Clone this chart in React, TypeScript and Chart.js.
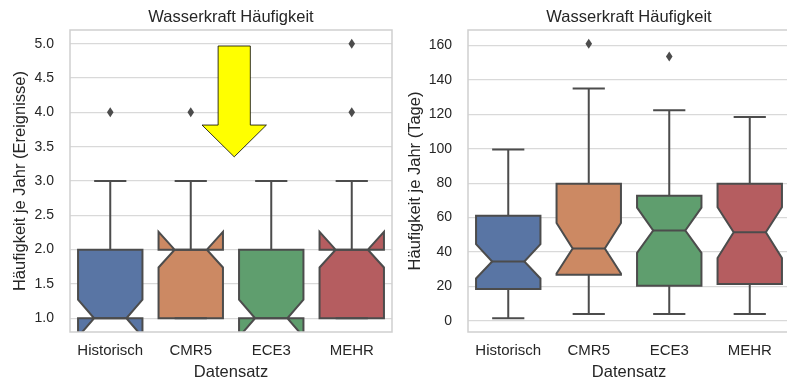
import React, { useEffect, useRef } from "react";
import { Chart, registerables } from "chart.js";

Chart.register(...registerables);

// ---------- data ----------
const categories = ["Historisch", "CMR5", "ECE3", "MEHR"];
const boxColors = ["#5975a4", "#cc8963", "#5f9e6e", "#b55d60"];

const panelTitle = "Wasserkraft Häufigkeit";
const xAxisTitle = "Datensatz";

// Left panel: events per year
const eventsAxisTitle = "Häufigkeit je Jahr (Ereignisse)";
const eventsWhiskerLow = [1, 1, 1, 1];
const eventsQ1 = [1, 1, 1, 1];
const eventsMedian = [1, 2, 1, 2];
const eventsQ3 = [2, 2, 2, 2];
const eventsWhiskerHigh = [3, 3, 3, 3];
const eventsNotchLow = [0.73, 1.74, 0.73, 1.74];
const eventsNotchHigh = [1.27, 2.26, 1.27, 2.26];
const eventsOutliers = [[4], [4], [], [4, 5]];
const eventsTicks = [1.0, 1.5, 2.0, 2.5, 3.0, 3.5, 4.0, 4.5, 5.0];
const eventsRange = [0.8, 5.2];

// Right panel: days per year
const daysAxisTitle = "Häufigkeit je Jahr (Tage)";
const daysWhiskerLow = [1.5, 4, 4, 4];
const daysQ1 = [18.5, 26.7, 20.4, 21.4];
const daysMedian = [34.5, 42, 52.5, 51.5];
const daysQ3 = [61, 79.7, 72.7, 79.7];
const daysWhiskerHigh = [99.5, 135, 122.4, 118.4];
const daysNotchLow = [24.6, 27.5, 39.5, 36.5];
const daysNotchHigh = [44.6, 56.8, 65.8, 66];
const daysOutliers = [[], [161], [153.6], []];
const daysTicks = [0, 20, 40, 60, 80, 100, 120, 140, 160];
const daysRange = [-6.5, 169];

// Yellow arrow annotation on left panel (data coordinates)
const arrowX = 1.54;
const arrowTop = 4.967;
const arrowHeadBase = 3.815;
const arrowTip = 3.352;
const arrowShaftHalf = 0.2;
const arrowHeadHalf = 0.4;

// ---------- styling ----------
const FONT = "'Liberation Sans', Arial, sans-serif";
const TEXT = "#262626";
const EDGE = "#4c4c4c";
const GRID = "#d9d9d9";
const FRAME = "#cfcfcf";

const boxPlugin = {
  id: "boxes",
  afterDatasetsDraw(chart: any, _args: any, opts: any) {
    const s = opts.stats;
    if (!s) return;
    const { ctx, chartArea: a, scales } = chart;
    const x = scales.x;
    const y = scales.y;
    ctx.save();
    ctx.beginPath();
    ctx.rect(a.left, a.top, a.right - a.left, a.bottom - a.top);
    ctx.clip();
    const catW = x.getPixelForValue(1) - x.getPixelForValue(0);
    const half = (catW * 0.8) / 2;
    ctx.lineWidth = 2;
    ctx.strokeStyle = EDGE;
    ctx.lineJoin = "miter";
    for (let i = 0; i < s.median.length; i++) {
      const cx = x.getPixelForValue(i);
      const L = cx - half;
      const R = cx + half;
      const cl = cx - half / 2;
      const cr = cx + half / 2;
      const yq1 = y.getPixelForValue(s.q1[i]);
      const yq3 = y.getPixelForValue(s.q3[i]);
      const ymed = y.getPixelForValue(s.median[i]);
      const ynl = y.getPixelForValue(s.notchLow[i]);
      const ynh = y.getPixelForValue(s.notchHigh[i]);
      const ywl = y.getPixelForValue(s.whiskerLow[i]);
      const ywh = y.getPixelForValue(s.whiskerHigh[i]);
      // box (notched)
      ctx.beginPath();
      ctx.moveTo(L, yq1);
      ctx.lineTo(R, yq1);
      ctx.lineTo(R, ynl);
      ctx.lineTo(cr, ymed);
      ctx.lineTo(R, ynh);
      ctx.lineTo(R, yq3);
      ctx.lineTo(L, yq3);
      ctx.lineTo(L, ynh);
      ctx.lineTo(cl, ymed);
      ctx.lineTo(L, ynl);
      ctx.closePath();
      ctx.fillStyle = s.colors[i];
      ctx.fill();
      ctx.stroke();
      // whiskers
      ctx.beginPath();
      ctx.moveTo(cx, yq1);
      ctx.lineTo(cx, ywl);
      ctx.moveTo(cx, yq3);
      ctx.lineTo(cx, ywh);
      ctx.moveTo(cl, ywl);
      ctx.lineTo(cr, ywl);
      ctx.moveTo(cl, ywh);
      ctx.lineTo(cr, ywh);
      // median
      ctx.moveTo(cl, ymed);
      ctx.lineTo(cr, ymed);
      ctx.stroke();
      // outliers
      ctx.fillStyle = EDGE;
      for (const v of s.outliers[i]) {
        const py = y.getPixelForValue(v);
        ctx.beginPath();
        ctx.moveTo(cx, py - 5);
        ctx.lineTo(cx + 3.3, py);
        ctx.lineTo(cx, py + 5);
        ctx.lineTo(cx - 3.3, py);
        ctx.closePath();
        ctx.fill();
      }
    }
    ctx.restore();

    // frame
    ctx.save();
    ctx.strokeStyle = FRAME;
    ctx.lineWidth = 1.5;
    ctx.strokeRect(a.left, a.top, a.right - a.left, a.bottom - a.top);
    ctx.restore();

    // arrow annotation
    const ar = opts.arrow;
    if (ar) {
      const xc = x.getPixelForValue(ar.x);
      const catW2 = catW;
      const sh = ar.shaftHalf * catW2;
      const hh = ar.headHalf * catW2;
      const yt = y.getPixelForValue(ar.top);
      const yb = y.getPixelForValue(ar.headBase);
      const ytip = y.getPixelForValue(ar.tip);
      ctx.save();
      ctx.beginPath();
      ctx.moveTo(xc - sh, yt);
      ctx.lineTo(xc + sh, yt);
      ctx.lineTo(xc + sh, yb);
      ctx.lineTo(xc + hh, yb);
      ctx.lineTo(xc, ytip);
      ctx.lineTo(xc - hh, yb);
      ctx.lineTo(xc - sh, yb);
      ctx.closePath();
      ctx.fillStyle = "#ffff00";
      ctx.fill();
      ctx.strokeStyle = "#000000";
      ctx.lineWidth = 0.8;
      ctx.stroke();
      ctx.restore();
    }
  },
  afterDraw(chart: any, _args: any, opts: any) {
    const { ctx, chartArea: a } = chart;
    const cxm = (a.left + a.right) / 2;
    const cym = (a.top + a.bottom) / 2;
    ctx.save();
    ctx.fillStyle = TEXT;
    ctx.font = `16.5px ${FONT}`;
    ctx.textAlign = "center";
    ctx.textBaseline = "alphabetic";
    if (opts.title) ctx.fillText(opts.title, cxm, 21.5);
    if (opts.xTitle) ctx.fillText(opts.xTitle, cxm, 376.5);
    if (opts.yTitle) {
      ctx.translate(opts.yTitleX, cym);
      ctx.rotate(-Math.PI / 2);
      ctx.fillText(opts.yTitle, 0, 0);
    }
    ctx.restore();
  },
};

function makeConfig(
  stats: any,
  range: number[],
  ticks: number[],
  yWidth: number,
  padRight: number,
  yTitle: string,
  yTitleX: number,
  arrow: any,
  decimals: number
) {
  return {
    type: "bar",
    data: {
      labels: categories,
      datasets: [{ data: categories.map(() => null), backgroundColor: "rgba(0,0,0,0)" }],
    },
    options: {
      responsive: false,
      animation: false,
      events: [],
      layout: { padding: { top: 30, right: padRight, left: 0, bottom: 0 } },
      plugins: {
        legend: { display: false },
        tooltip: { enabled: false },
        title: { display: false },
        boxes: { stats, arrow, title: panelTitle, xTitle: xAxisTitle, yTitle, yTitleX },
      },
      scales: {
        x: {
          type: "category",
          offset: true,
          grid: { display: false, drawTicks: false },
          border: { display: false },
          ticks: { color: TEXT, font: { family: FONT, size: 15 }, padding: 10, maxRotation: 0 },
          afterFit: (sc: any) => {
            sc.height = 47;
          },
        },
        y: {
          type: "linear",
          min: range[0],
          max: range[1],
          grid: { color: GRID, lineWidth: 1.3, drawTicks: false },
          border: { display: false },
          ticks: {
            color: TEXT,
            font: { family: FONT, size: 14 },
            padding: 16,
            callback: (v: any) => Number(v).toFixed(decimals),
          },
          afterBuildTicks: (sc: any) => {
            sc.ticks = ticks.map((v) => ({ value: v }));
          },
          afterFit: (sc: any) => {
            sc.width = yWidth;
          },
        },
      },
    },
    plugins: [boxPlugin],
  };
}

export default function App() {
  const leftRef = useRef<HTMLCanvasElement>(null);
  const rightRef = useRef<HTMLCanvasElement>(null);

  useEffect(() => {
    const leftStats = {
      whiskerLow: eventsWhiskerLow,
      q1: eventsQ1,
      median: eventsMedian,
      q3: eventsQ3,
      whiskerHigh: eventsWhiskerHigh,
      notchLow: eventsNotchLow,
      notchHigh: eventsNotchHigh,
      outliers: eventsOutliers,
      colors: boxColors,
    };
    const rightStats = {
      whiskerLow: daysWhiskerLow,
      q1: daysQ1,
      median: daysMedian,
      q3: daysQ3,
      whiskerHigh: daysWhiskerHigh,
      notchLow: daysNotchLow,
      notchHigh: daysNotchHigh,
      outliers: daysOutliers,
      colors: boxColors,
    };
    const arrow = {
      x: arrowX,
      top: arrowTop,
      headBase: arrowHeadBase,
      tip: arrowTip,
      shaftHalf: arrowShaftHalf,
      headHalf: arrowHeadHalf,
    };
    const c1 = new Chart(
      leftRef.current as any,
      makeConfig(leftStats, eventsRange, eventsTicks, 70, 3, eventsAxisTitle, 25, arrow, 1) as any
    );
    const c2 = new Chart(
      rightRef.current as any,
      makeConfig(rightStats, daysRange, daysTicks, 73, 1, daysAxisTitle, 25, null, 0) as any
    );
    return () => {
      c1.destroy();
      c2.destroy();
    };
  }, []);

  return (
    <div
      style={{
        position: "fixed",
        left: 0,
        top: 0,
        width: 787,
        height: 379,
        overflow: "hidden",
        background: "#ffffff",
      }}
    >
      <canvas
        ref={leftRef}
        width={395}
        height={379}
        style={{ position: "absolute", left: 0, top: 0, width: 395, height: 379 }}
      />
      <canvas
        ref={rightRef}
        width={396}
        height={379}
        style={{ position: "absolute", left: 395, top: 0, width: 396, height: 379 }}
      />
    </div>
  );
}
